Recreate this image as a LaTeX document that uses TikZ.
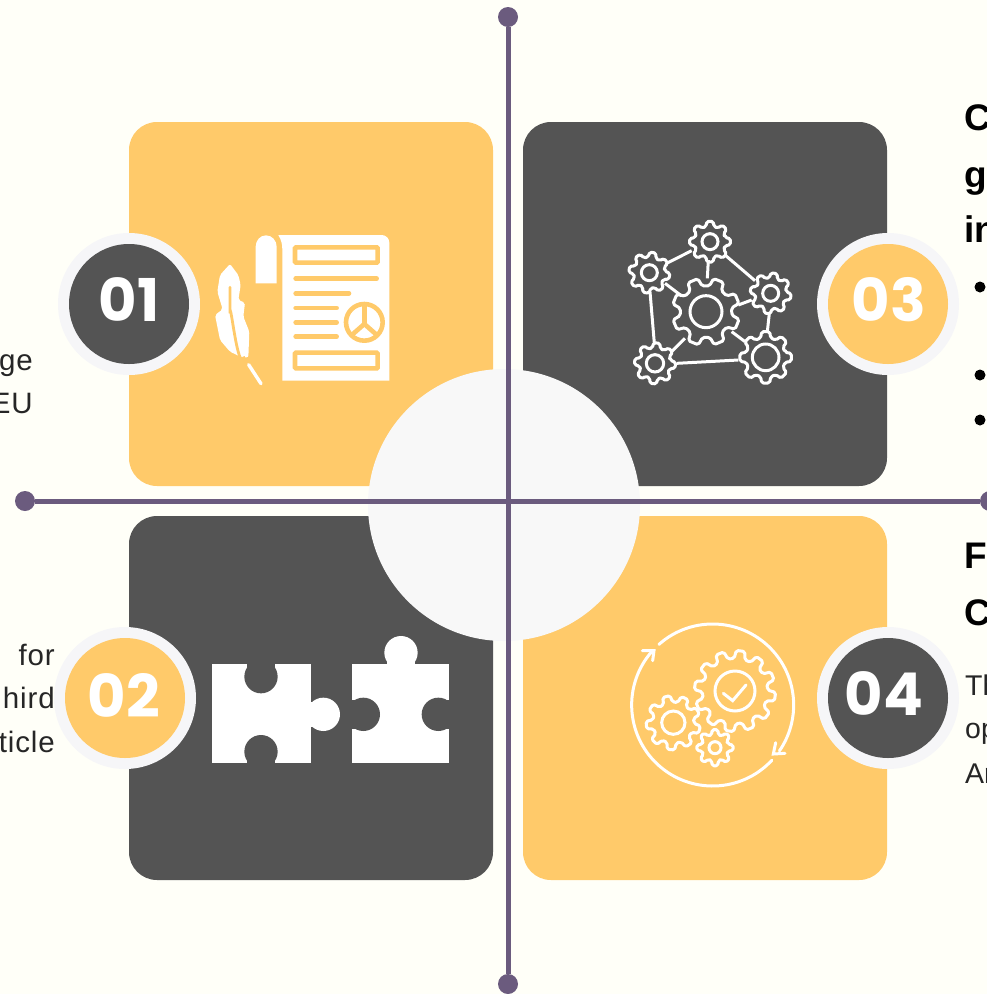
\documentclass[tikz,border=0pt]{standalone}
\usepackage{fontspec}
\setmainfont{Liberation Sans}
\newfontfamily\badgefont{Poppins}
\newfontfamily\bodyfont[LetterSpace=3]{Liberation Sans}
\definecolor{bgc}{HTML}{FFFFF8}
\definecolor{amber}{HTML}{FFCA6A}
\definecolor{slate}{HTML}{545454}
\definecolor{mauve}{HTML}{6B5B7E}
\definecolor{pale}{HTML}{F6F6F8}
\definecolor{hubc}{HTML}{F8F8F8}
\newcommand{\gearicon}[6]{% cx cy rout rin teeth phase
  \draw[gearline] ({#1+#4*cos(#6-0.32*360/#5)},{#2+#4*sin(#6-0.32*360/#5)})
  \foreach \i in {1,...,#5}{
    -- ({#1+#3*cos(#6+(\i-1)*360/#5-0.2*360/#5)},{#2+#3*sin(#6+(\i-1)*360/#5-0.2*360/#5)})
    -- ({#1+#3*cos(#6+(\i-1)*360/#5+0.2*360/#5)},{#2+#3*sin(#6+(\i-1)*360/#5+0.2*360/#5)})
    -- ({#1+#4*cos(#6+(\i-1)*360/#5+0.32*360/#5)},{#2+#4*sin(#6+(\i-1)*360/#5+0.32*360/#5)})
    -- ({#1+#4*cos(#6+\i*360/#5-0.32*360/#5)},{#2+#4*sin(#6+\i*360/#5-0.32*360/#5)})
  } -- cycle;}
\tikzset{
  panel/.style={rounded corners=28pt,draw=none},
  ring/.style={circle,fill=pale,minimum size=142pt,inner sep=0pt},
  badge/.style={circle,minimum size=120pt,inner sep=0pt},
  badgetext/.style={inner sep=0pt,text=white,font=\badgefont\bfseries\fontsize{59}{59}\selectfont},
  axisline/.style={draw=mauve,line width=5pt},
  axisdot/.style={circle,fill=mauve,minimum size=20pt,inner sep=0pt},
  gearline/.style={draw=white,line width=3pt,rounded corners=1.8pt,line join=round},
  iconline/.style={draw=white,line width=3pt,line cap=round},
  cutline/.style={draw=amber,line width=4.6pt,line cap=round},
  headtext/.style={font=\bfseries\fontsize{37}{37}\selectfont,text=black,inner sep=0pt,anchor=base west},
  bodytext/.style={font=\bodyfont\fontsize{29.5}{29.5}\selectfont,text=black!85,inner sep=0pt},
  righttext/.style={font=\fontsize{28.5}{28.5}\selectfont,text=black!85,inner sep=0pt,anchor=base west},
  bulletdot/.style={circle,fill=black,minimum size=11pt,inner sep=0pt},
}
\begin{document}
\begin{tikzpicture}[x=1pt,y=-1pt]
\useasboundingbox (0,0) rectangle (987,994);
\clip (0,0) rectangle (987,994);
\fill[bgc] (0,0) rectangle (987,994);
% panels
\fill[panel,amber] (129,122) rectangle (493,486);
\fill[panel,slate] (523,122) rectangle (887,486);
\fill[panel,slate] (129,516) rectangle (493,880);
\fill[panel,amber] (523,516) rectangle (887,880);
% centre disc
\node[circle,fill=hubc,minimum size=272pt,inner sep=0pt] (hub) at (504,505) {};
% axes
\node[axisdot] (dotN) at (508,17) {};
\node[axisdot] (dotS) at (508,984) {};
\node[axisdot] (dotW) at (25,501) {};
\node[axisdot] (dotE) at (990,501) {};
\draw[axisline] (dotN) -- (dotS);
\draw[axisline] (dotW) -- (dotE);
% icon 01: document and quill
\begin{scope}[shift={(200,220)},scale=1/3]
  \fill[white] (235,45) -- (545,45) to[out=0,in=90] (568,68) -- (568,482) -- (247,482) -- (247,90) to[out=90,in=-60] (235,45) -- cycle;
  \fill[white] (167,190) -- (230,190) -- (230,80) to[out=90,in=0] (198,46) to[out=180,in=90] (167,80) -- cycle;
  \draw[cutline,line cap=butt,rounded corners=1pt] (285,82) rectangle (533,128);
  \draw[cutline,line cap=butt,rounded corners=1pt] (285,398) rectangle (533,445);
  \draw[cutline] (287,176) -- (530,176);
  \draw[cutline] (287,220) -- (447,220);
  \draw[cutline] (287,264) -- (410,264);
  \draw[cutline] (287,307) -- (410,307);
  \draw[cutline] (287,350) -- (410,350);
  \draw[cutline,line cap=butt] (493,307) circle (55);
  \draw[cutline,line cap=butt] (493,252) -- (493,315);
  \draw[cutline,line cap=butt] (493,312) -- (452,348);
  \draw[cutline,line cap=butt] (493,312) -- (534,348);
  \fill[white,rounded corners=2pt] (90,132) -- (115,165) -- (122,195) -- (115,240) -- (135,248) -- (130,290) -- (148,335) -- (145,412)
     -- (125,412) -- (90,395) -- (60,360) -- (45,285) -- (68,268) -- (52,215) -- (60,165) -- cycle;
  \draw[cutline,line width=2.8pt] (90,202) -- (90,280) to[out=90,in=-110] (132,412);
  \draw[white,line width=3.4pt,line cap=round] (146,434) -- (183,491);
\end{scope}
% icon 03: network of gears
\begin{scope}[shift={(610,210)},scale=1/3]
  \foreach \a/\b/\c/\d in {170/160/245/122,295/150/292/205,345/135/435/212,165/220/215/258,120/245/133/400,385/285/425/270,478/310/472/365,365/365/405/395,225/385/185/425,200/460/385/450}
    \draw[iconline,line cap=butt] (\a,\b) -- (\c,\d);
  \gearicon{300}{95}{62}{47}{8}{0}
  \gearicon{118}{188}{62}{47}{8}{10}
  \gearicon{482}{250}{62}{47}{8}{10}
  \gearicon{288}{305}{102}{78}{8}{22}
  \gearicon{135}{460}{62}{47}{8}{5}
  \gearicon{467}{442}{78}{60}{8}{0}
  \draw[iconline] (300,95) circle (24);
  \draw[iconline] (118,188) circle (24);
  \draw[iconline] (482,250) circle (24);
  \draw[iconline] (288,305) circle (48);
  \draw[iconline] (135,460) circle (26);
  \draw[iconline] (467,442) circle (40);
\end{scope}
% icon 04: cycle of gears
\begin{scope}[shift={(610,610)},scale=1/3]
  \draw[iconline] (308,285) ++(228.4:243) arc[start angle=228.4,end angle=394.5,radius=243];
  \draw[iconline] (308,285) ++(43:243) arc[start angle=43,end angle=221,radius=243];
  \draw[iconline] (97,122) -- (132,122) -- (128,152);
  \draw[iconline] (525,430) -- (490,432) -- (497,398);
  \gearicon{375}{243}{122}{98}{12}{8}
  \gearicon{190}{338}{82}{62}{9}{15}
  \gearicon{315}{413}{55}{40}{8}{0}
  \draw[iconline] (375,243) circle (60);
  \draw[iconline] (190,338) circle (35);
  \draw[iconline] (315,413) circle (18);
  \draw[iconline] (340,250) -- (368,272) -- (408,225);
\end{scope}
% icon 02: puzzle pieces
\begin{scope}[shift={(200,620)},scale=1/3]
  \fill[white] (35,133) rectangle (332,430);
  \fill[white] (455,133) rectangle (748,430);
  \fill[white] (370,283) circle (50);
  \fill[white] (320,245) rectangle (345,321);
  \fill[white] (603,98) circle (50);
  \fill[white] (560,120) rectangle (646,140);
  \fill[slate] (183,170) circle (50);
  \fill[slate] (140,125) rectangle (226,150);
  \fill[slate] (183,395) circle (50);
  \fill[slate] (140,415) rectangle (226,435);
  \fill[slate] (490,283) circle (50);
  \fill[slate] (450,240) rectangle (470,326);
  \fill[slate] (715,283) circle (50);
  \fill[slate] (730,240) rectangle (755,326);
\end{scope}
% badges
\node[ring] (ring1) at (129,304) {};
\node[badge,fill=slate] (badge1) at (129,304) {};
\node[badgetext] (num1) at (129,300) {01};
\node[ring] (ring3) at (888,304) {};
\node[badge,fill=amber] (badge3) at (888,304) {};
\node[badgetext] (num3) at (889,300) {03};
\node[ring] (ring2) at (125,698) {};
\node[badge,fill=amber] (badge2) at (125,698) {};
\node[badgetext] (num2) at (124,695) {02};
\node[ring] (ring4) at (888,698) {};
\node[badge,fill=slate] (badge4) at (888,698) {};
\node[badgetext] (num4) at (884,694) {04};
% text cut by the page edge
\node[headtext] (h1) at (964,130) {C};
\node[headtext] (h2) at (964,187) {g};
\node[headtext] (h3) at (964,242) {in};
\node[bulletdot] (b1) at (980,287) {};
\node[bulletdot] (b2) at (980,375) {};
\node[bulletdot] (b3) at (980,420) {};
\node[headtext] (h4) at (964,568) {Fu};
\node[headtext] (h5) at (964,625) {C};
\node[righttext] (t1) at (965,695) {Th};
\node[righttext] (t2) at (965,738) {op};
\node[righttext] (t3) at (965,783) {An};
\node[bodytext,anchor=base east] (l1) at (33,370) {ge};
\node[bodytext,anchor=base east] (l2) at (33,413) {EU};
\node[bodytext,anchor=base east] (l3) at (55,665) {for};
\node[bodytext,anchor=base east] (l4) at (55,708) {hird};
\node[bodytext,anchor=base east] (l5) at (55,752) {ticle};
\end{tikzpicture}
\end{document}
